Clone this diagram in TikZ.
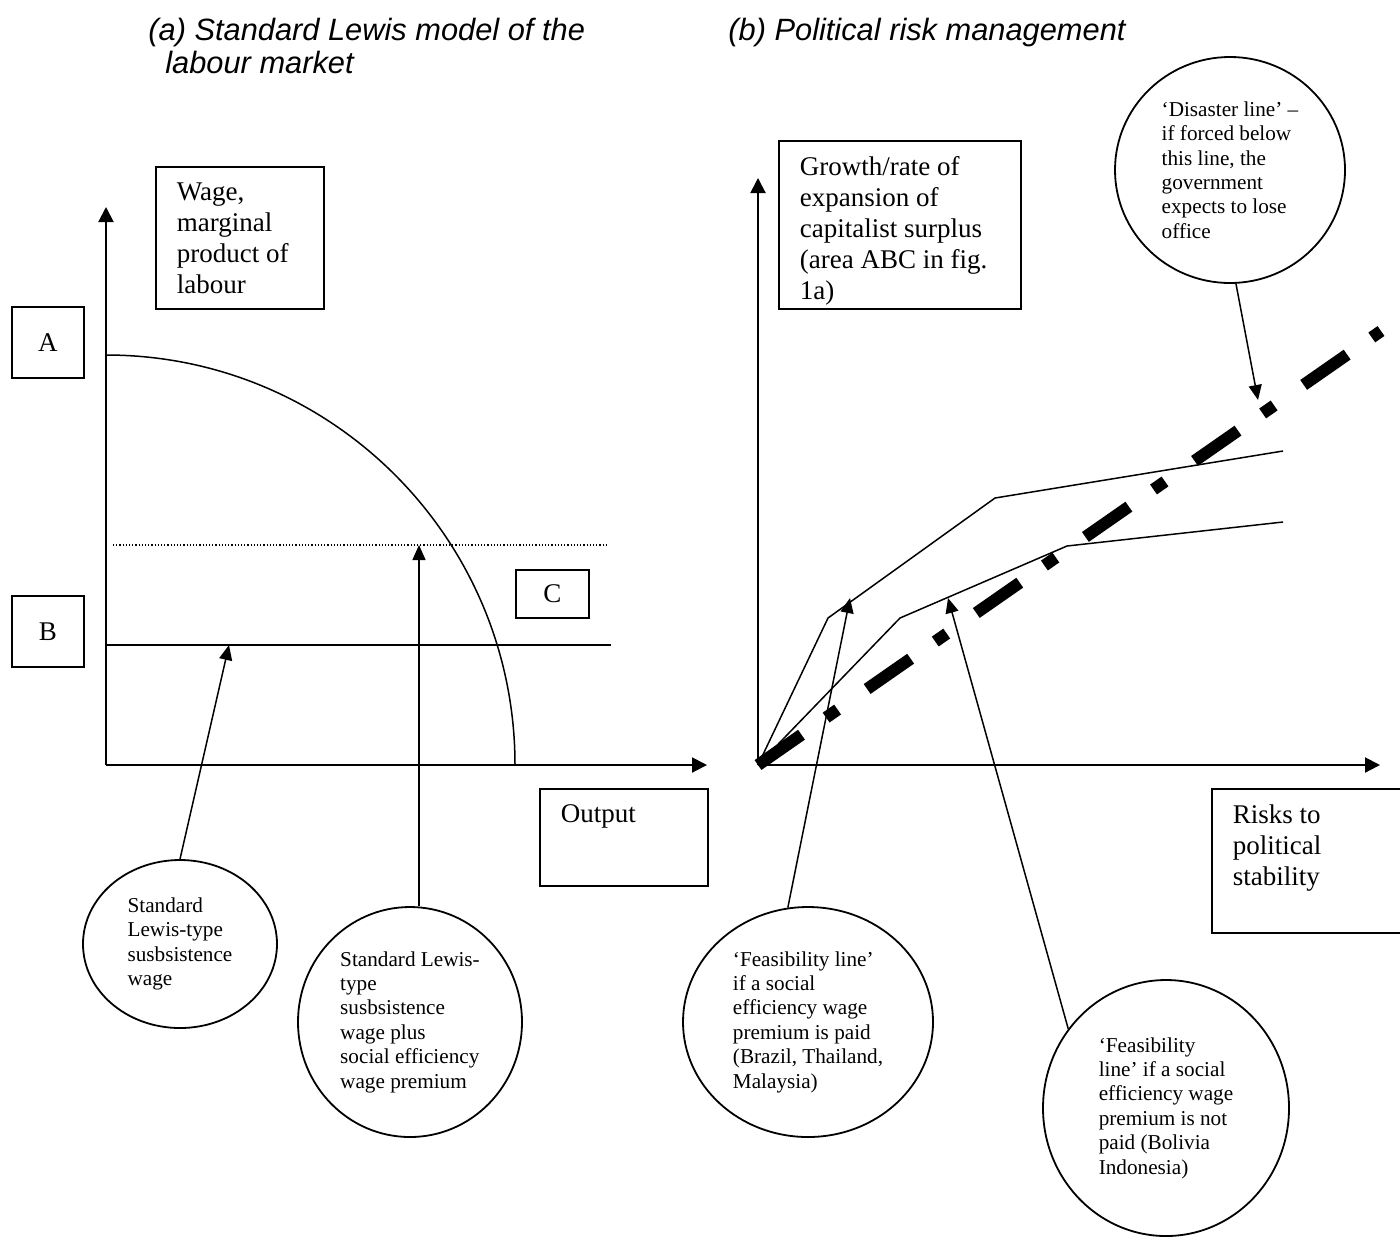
\documentclass[tikz,border=0pt]{standalone}
\usepackage{fontspec}
\setmainfont{Liberation Serif}
\newfontfamily\headfont{Liberation Sans}
\usetikzlibrary{arrows.meta,shapes.geometric,calc}
\newcommand{\topbox}[3]{\parbox[t][#2][t]{#1}{\raggedright #3}}
\tikzset{
	axis/.style={line width=1pt, -{Triangle[length=7.5pt,width=7.5pt]}},
	pointer/.style={line width=0.75pt, -{Triangle[length=7.5pt,width=6.5pt]}},
	lbox/.style={draw, line width=0.8pt, anchor=north west, inner xsep=10.5pt, inner ysep=8pt,
			font=\fontsize{13.5}{15.5}\selectfont},
	letter/.style={draw, line width=0.8pt, anchor=north west, inner sep=0pt,
			font=\fontsize{13.5}{15.5}\selectfont},
	bubble/.style={draw, ellipse, line width=0.9pt, inner sep=0pt, align=left,
			font=\fontsize{10.6}{12.2}\selectfont},
	heading/.style={anchor=north west, inner sep=0pt, align=left,
			font=\headfont\itshape\fontsize{15.4}{16.5}\selectfont},
	feasible/.style={line width=0.75pt},
	disaster/.style={line width=6pt, dash pattern=on 26.5pt off 15pt on 7pt off 18pt}
}

\begin{document}
\begin{tikzpicture}[x=0.5pt, y=-0.5pt]
	\clip (0,0) rectangle (1400,1238);

	% Panel headings
	\node[heading] (titleA) at (148,18) {(a) Standard Lewis model of the\\\hspace*{8.5pt}labour market};
	\node[heading] (titleB) at (728,18) {(b) Political risk management};

	% (a) Lewis model: axes
	\coordinate (O1) at (106,765);
	\draw[axis] (O1) -- (106,207);
	\draw[axis] (O1) -- (707,765);

	% Marginal product curve and wage levels
	\draw[line width=0.75pt] (106,355) arc[start angle=90, end angle=0, x radius=204.5pt, y radius=205pt];
	\draw[line width=0.6pt, dash pattern=on 0.6pt off 1pt] (113,545) -- (608,545);
	\draw[line width=0.75pt] (106,645) -- (611,645);
	\coordinate (subsist) at (229,645);
	\coordinate (premtip) at (419,545);

	% Labels of the left panel
	\node[lbox] (wage) at (155,166) {\topbox{63pt}{55pt}{Wage,\\marginal\\product of\\labour}};
	\foreach \lab/\ypos in {A/306,B/595}
		\node[letter, minimum width=36pt, minimum height=35.5pt] (\lab) at (11,\ypos) {\lab};
	\node[letter, minimum width=36.5pt, minimum height=24pt] (C) at (515,569) {C};
	\node[lbox] (output) at (539,788) {\topbox{63pt}{32.5pt}{Output}};

	\node[bubble, minimum width=97pt, minimum height=84pt] (lewis) at (180,944)
		{Standard\\Lewis-type\\susbsistence\\wage};
	\node[bubble, minimum width=112pt, minimum height=115pt] (premium) at (410,1022)
		{Standard Lewis-\\type\\susbsistence\\wage plus\\social efficiency\\wage premium};
	\draw[pointer] (lewis.north) -- (subsist);
	\draw[pointer] (premium.north -| premtip) -- (premtip);

	% (b) Political risk management: axes
	\coordinate (O2) at (758,765);
	\draw[axis] (O2) -- (758,178);
	\draw[axis] (O2) -- (1380,765);

	% Feasibility lines and disaster line
	\draw[feasible] (O2) -- (828,618) -- (995,498) -- (1283,451);
	\draw[feasible] (O2) -- (900,618) -- (1067,546) -- (1283,522);
	\draw[disaster] (O2) -- (1381,331);
	\coordinate (paidtip) at (850,598);
	\coordinate (notpaidtip) at (948,598);
	\coordinate (doomtip) at (1258,400);

	% Labels of the right panel
	\node[lbox] (growth) at (778,140) {\topbox{100pt}{68pt}{Growth/rate of\\expansion of\\capitalist surplus\\(area ABC in fig.\\1a)}};
	\node[lbox] (risks) at (1211,788) {\topbox{79pt}{56pt}{Risks to\\political\\stability}};

	\node[bubble, minimum width=115pt, minimum height=113pt] (doom) at (1230,170)
		{`Disaster line' --\\if forced below\\this line, the\\government\\expects to lose\\office};
	\node[bubble, minimum width=125pt, minimum height=115pt] (paid) at (808,1022)
		{`Feasibility line'\\if a social\\efficiency wage\\premium is paid\\(Brazil, Thailand,\\Malaysia)};
	\node[bubble, minimum width=123pt, minimum height=128pt] (notpaid) at (1166,1108)
		{`Feasibility\\line' if a social\\efficiency wage\\premium is not\\paid (Bolivia\\Indonesia)};
	\draw[pointer] (doom.273) -- (doomtip);
	\draw[pointer] (paid.100) -- (paidtip);
	\draw[pointer] (notpaid.141) -- (notpaidtip);
\end{tikzpicture}
\end{document}
